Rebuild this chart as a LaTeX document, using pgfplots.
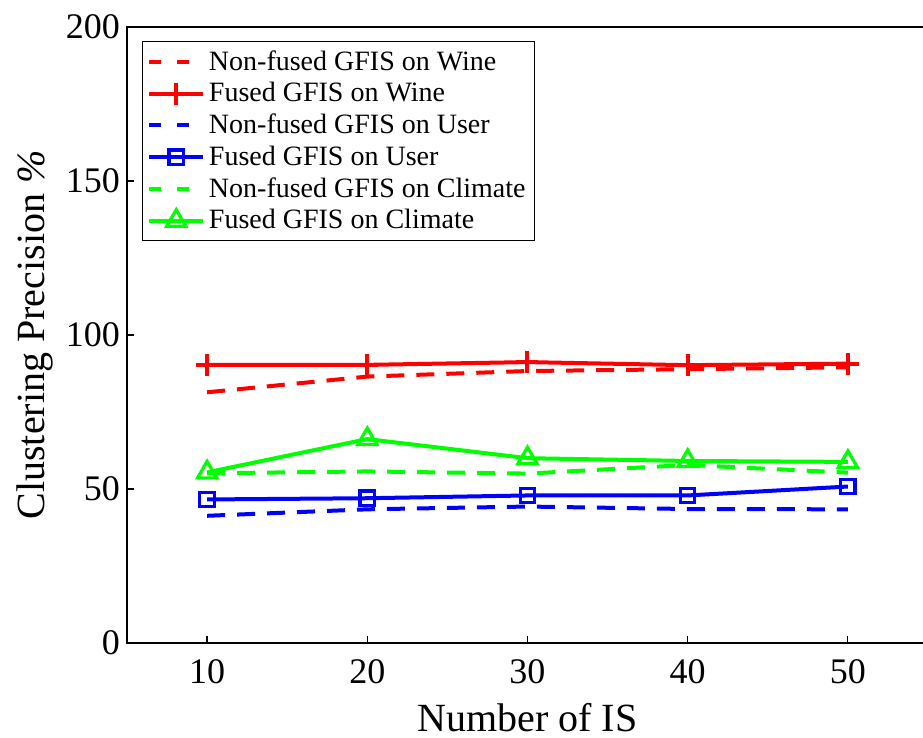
\documentclass[border=0pt]{standalone}
\usepackage{pgfplots}
\pgfplotsset{compat=1.18}
\usepackage{fontspec}
\setmainfont{Liberation Serif}
\definecolor{cred}{RGB}{255,0,0}
\definecolor{cblue}{RGB}{0,0,255}
\definecolor{cgreen}{RGB}{0,255,0}
\begin{document}
\begin{tikzpicture}
\begin{axis}[
  scale only axis,
  width=400.5pt, height=308pt,
  xmin=5, xmax=55, ymin=0, ymax=200,
  xtick={10,20,30,40,50}, ytick={0,50,100,150,200},
  tick pos=left, tick align=inside, major tick length=3.5pt,
  axis line style={line width=1pt},
  tick style={line width=0.6pt, black},
  /pgf/number format/assume math mode=true,
  ticklabel style={font=\fontsize{18}{20}\selectfont},
  xticklabel style={anchor=center, yshift=-14.5pt},
  xlabel={Number of IS},
  ylabel={Clustering Precision \textit{\%}},
  label style={font=\fontsize{20}{22}\selectfont},
  xlabel style={at={(axis description cs:0.5,0)}, anchor=center, yshift=-37.5pt},
  ylabel style={at={(axis description cs:0,0.5)}, anchor=center, yshift=46pt},
  legend style={at={(rel axis cs:0,1)}, anchor=north west, xshift=7.5pt, yshift=-7pt,
    font=\fontsize{14}{16}\selectfont, draw=black, line width=0.5pt,
    inner sep=2.5pt, row sep=0.6pt},
  legend cell align=left,
  legend image code/.code={\draw[mark repeat=2,mark phase=2] plot coordinates {(0cm,0cm) (0.47cm,0cm) (0.94cm,0cm)};},
  every axis plot/.append style={line width=2pt},
  ndash/.style={dash pattern=on 9pt off 6pt, legend image post style={dash pattern=on 6pt off 8pt}},
]
\addplot[cred, ndash] coordinates {(10,81.4) (20,86.5) (30,88.3) (40,88.9) (50,89.5)};
\addlegendentry{Non-fused GFIS on Wine}
\addplot[cred, mark=+, mark size=5.5pt, mark options={solid}] coordinates {(10,90.3) (20,90.3) (30,91.2) (40,90.2) (50,90.7)};
\addlegendentry{Fused GFIS on Wine}
\addplot[cblue, ndash] coordinates {(10,41.3) (20,43.4) (30,44.3) (40,43.5) (50,43.4)};
\addlegendentry{Non-fused GFIS on User}
\addplot[cblue, mark=square, mark size=3.6pt, mark options={solid, line width=1.6pt}] coordinates {(10,46.6) (20,47.0) (30,47.9) (40,47.9) (50,50.8)};
\addlegendentry{Fused GFIS on User}
\addplot[cgreen, ndash] coordinates {(10,55.1) (20,55.7) (30,55.0) (40,57.8) (50,55.3)};
\addlegendentry{Non-fused GFIS on Climate}
\addplot[cgreen, mark=triangle, mark size=5.5pt, mark options={solid, line width=1.6pt}] coordinates {(10,55.4) (20,66.2) (30,60.0) (40,59.1) (50,58.8)};
\addlegendentry{Fused GFIS on Climate}
\coordinate (sw) at (rel axis cs:0,0);
\coordinate (nw) at (rel axis cs:0,1);
\end{axis}
\pgfresetboundingbox
\path[use as bounding box] ([shift={(-63.5pt,-47.5pt)}]sw) rectangle ([shift={(398pt,13.5pt)}]nw);
\end{tikzpicture}
\end{document}
